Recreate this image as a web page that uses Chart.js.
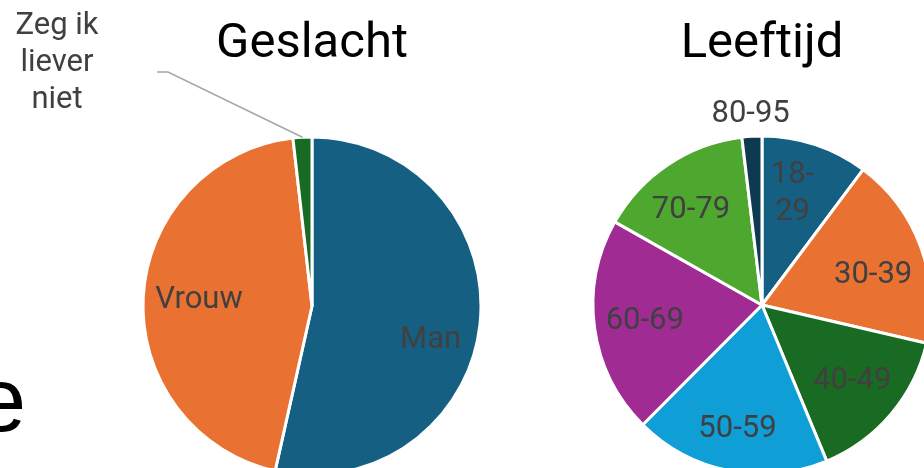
<!DOCTYPE html>
<html>
<head>
<meta charset="utf-8">
<script src="https://cdn.jsdelivr.net/npm/chart.js@4"></script>
<style>
  body { margin: 0; width: 924px; height: 468px; overflow: hidden; background: #fff; position: relative; }
  canvas { position: absolute; top: 0; }
  #geslacht { left: 0; }
  #leeftijd { left: 450px; }
  #stuk { position: absolute; left: -24px; top: 355px; font: 90px "Liberation Sans", Arial, sans-serif; line-height: 1; color: #000; }
</style>
</head>
<body>
<div id="stuk">e</div>
<canvas id="geslacht" width="624" height="528"></canvas>
<canvas id="leeftijd" width="624" height="526"></canvas>
<script>
// data gelezen uit de afbeelding (procenten, geschat)
const geslachtLabels = ['Man', 'Vrouw', 'Zeg ik liever niet'];
const geslachtWaarden = [53.5, 44.7, 1.8];
const geslachtKleuren = ['#156082', '#E97132', '#196B24'];

const leeftijdLabels = ['18-29', '30-39', '40-49', '50-59', '60-69', '70-79', '80-95'];
const leeftijdWaarden = [10.2, 18.4, 15.1, 18.7, 20.7, 14.9, 1.9];
const leeftijdKleuren = ['#156082', '#E97132', '#196B24', '#0F9ED5', '#A02B93', '#4EA72E', '#0D3A4E'];

// labels in de taartpunten tekenen (geen datalabels plugin beschikbaar)
const sliceLabels = {
  id: 'sliceLabels',
  afterDatasetsDraw(chart, args, opts) {
    const ctx = chart.ctx;
    const meta = chart.getDatasetMeta(0);
    const labels = chart.data.labels;
    ctx.save();
    ctx.font = opts.size + 'px ' + opts.family;
    ctx.textAlign = 'center';
    ctx.textBaseline = 'middle';
    meta.data.forEach((arc, i) => {
      const o = (opts.custom || {})[i] || {};
      const p = arc.getProps(['x', 'y', 'startAngle', 'endAngle', 'outerRadius'], true);
      const a = p.startAngle + (p.endAngle - p.startAngle) * (o.at ?? 0.5);
      const r = p.outerRadius * (o.radius ?? opts.radius);
      let tx = p.x + Math.cos(a) * r;
      let ty = p.y + Math.sin(a) * r;
      if (o.callout) {
        const c = o.callout;
        const mid = (p.startAngle + p.endAngle) / 2;
        ctx.strokeStyle = opts.lineColor;
        ctx.lineWidth = 1.5;
        ctx.beginPath();
        ctx.moveTo(p.x + Math.cos(mid) * p.outerRadius, p.y + Math.sin(mid) * p.outerRadius);
        ctx.lineTo(p.x + c.elbow[0], p.y + c.elbow[1]);
        ctx.lineTo(p.x + c.end[0], p.y + c.end[1]);
        ctx.stroke();
        tx = p.x + c.text[0];
        ty = p.y + c.text[1];
      }
      const lines = o.lines || [labels[i]];
      ctx.fillStyle = opts.color;
      lines.forEach((ln, k) => {
        ctx.fillText(ln, tx, ty + (k - (lines.length - 1) / 2) * opts.lineHeight);
      });
    });
    ctx.restore();
  }
};

function taart(id, titel, labels, waarden, kleuren, custom) {
  return new Chart(document.getElementById(id), {
    type: 'pie',
    data: {
      labels: labels,
      datasets: [{
        data: waarden,
        backgroundColor: kleuren,
        borderColor: '#ffffff',
        borderWidth: 3,
        hoverOffset: 0
      }]
    },
    options: {
      responsive: false,
      animation: false,
      radius: 169,
      layout: { padding: 0 },
      events: [],
      plugins: {
        legend: { display: false },
        tooltip: { enabled: false },
        title: {
          display: true,
          text: titel,
          color: '#000000',
          font: { family: 'Roboto', size: 49, weight: 'normal', lineHeight: 1.2 },
          padding: { top: 15.6, bottom: 9.6 }
        },
        sliceLabels: {
          family: 'Roboto',
          size: 31,
          lineHeight: 37,
          color: '#404040',
          lineColor: '#A6A6A6',
          radius: 0.7,
          custom: custom
        }
      }
    },
    plugins: [sliceLabels]
  });
}

taart('geslacht', 'Geslacht', geslachtLabels, geslachtWaarden, geslachtKleuren, {
  0: { at: 0.55, radius: 0.73 },
  1: { radius: 0.67 },
  2: { lines: ['Zeg ik', 'liever', 'niet'], callout: { elbow: [-144, -234], end: [-155, -234], text: [-255, -243] } }
});

taart('leeftijd', 'Leeftijd', leeftijdLabels, leeftijdWaarden, leeftijdKleuren, {
  0: { lines: ['18-', '29'], at: 0.42, radius: 0.68 },
  1: { at: 0.58, radius: 0.68 },
  3: { radius: 0.75 },
  5: { at: 0.44, radius: 0.7 },
  6: { radius: 1.13 }
});
</script>
</body>
</html>
